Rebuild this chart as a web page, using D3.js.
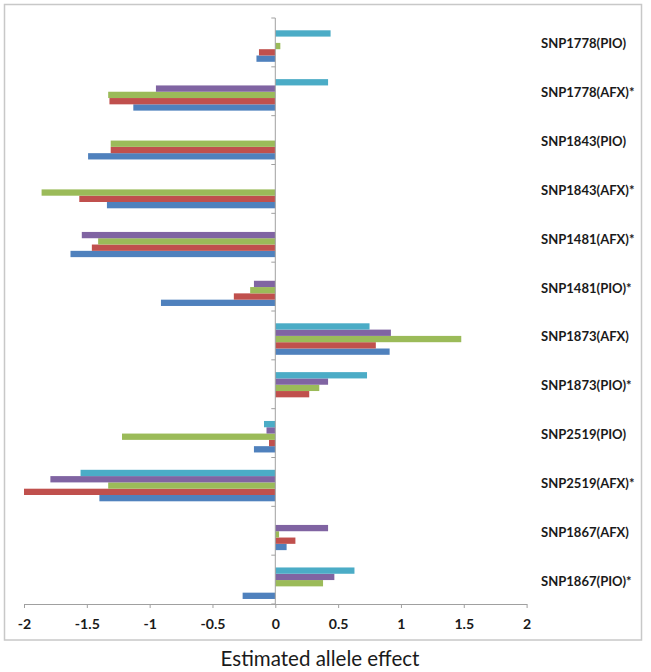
<!DOCTYPE html>
<html>
<head>
<meta charset="utf-8">
<script src="https://cdn.jsdelivr.net/npm/d3@7"></script>
<style>
  html, body { margin: 0; padding: 0; background: #fff; }
  svg { display: block; }
  text { font-family: Lato, "Open Sans", "Noto Sans", sans-serif; fill: #1a1a1a; }
</style>
</head>
<body>
<svg id="chart" width="651" height="672"></svg>
<script>
// ---------- data ----------
const categories = ["SNP1778(PIO)", "SNP1778(AFX)*", "SNP1843(PIO)", "SNP1843(AFX)*",
  "SNP1481(AFX)*", "SNP1481(PIO)*", "SNP1873(AFX)", "SNP1873(PIO)*",
  "SNP2519(PIO)", "SNP2519(AFX)*", "SNP1867(AFX)", "SNP1867(PIO)*"];
const seriesNames = ["S1", "S2", "S3", "S4", "S5"];
const s1Blue   = [-0.15, -1.13, -1.49, -1.34, -1.63, -0.91, 0.91, 0,    -0.17, -1.40, 0.09, -0.26];
const s2Red    = [-0.13, -1.32, -1.31, -1.56, -1.46, -0.33, 0.80, 0.27, -0.05, -2.00, 0.16, 0];
const s3Green  = [ 0.04, -1.33, -1.31, -1.86, -1.41, -0.20, 1.48, 0.35, -1.22, -1.33, 0.03, 0.38];
const s4Purple = [ 0,    -0.95,  0,     0,    -1.54, -0.17, 0.92, 0.42, -0.07, -1.79, 0.42, 0.47];
const s5Cyan   = [ 0.44,  0.42,  0,     0,     0,     0,    0.75, 0.73, -0.09, -1.55, 0,    0.63];
const xTicks = [-2, -1.5, -1, -0.5, 0, 0.5, 1, 1.5, 2];
const xTitle = "Estimated allele effect";

const seriesValues = [s1Blue, s2Red, s3Green, s4Purple, s5Cyan];
const colors = ["#4F81BD", "#C0504D", "#9BBB59", "#8064A2", "#4BACC6"];

// ---------- layout ----------
const svg = d3.select("#chart");
const plot = { left: 24, right: 526.6, top: 18, bottom: 604 };

const x = d3.scaleLinear().domain([-2, 2]).range([plot.left, plot.right]);
const y = d3.scaleBand().domain(categories).range([plot.top, plot.bottom]).paddingInner(0).paddingOuter(0);
// series drawn bottom-up: S1 at bottom, S5 at top
const inner = d3.scaleBand().domain(seriesNames.slice().reverse())
  .range([12.3, 12.3 + 31.5]).paddingInner(0);

// outer border
svg.append("rect")
  .attr("x", 4.5).attr("y", 4.5).attr("width", 637).attr("height", 635.5)
  .attr("fill", "none").attr("stroke", "#c8c8c8").attr("stroke-width", 1.5);

// bars
const rows = [];
seriesValues.forEach((vals, si) => {
  vals.forEach((v, ci) => rows.push({ s: seriesNames[si], si, c: categories[ci], v }));
});
svg.append("g").selectAll("rect").data(rows).join("rect")
  .attr("x", d => Math.min(x(0), x(d.v)))
  .attr("width", d => Math.abs(x(d.v) - x(0)))
  .attr("y", d => y(d.c) + inner(d.s))
  .attr("height", inner.bandwidth())
  .attr("fill", d => colors[d.si]);

const axisColor = "#a0a0a0";

// x axis
const xAxis = svg.append("g")
  .attr("transform", `translate(0,${plot.bottom})`)
  .call(d3.axisBottom(x).tickValues(xTicks).tickSizeInner(4).tickSizeOuter(0)
    .tickFormat(d => String(d)));
xAxis.select(".domain").attr("stroke", axisColor);
xAxis.selectAll(".tick line").attr("stroke", axisColor);
xAxis.selectAll(".tick text")
  .attr("y", 20).attr("dy", "0.35em")
  .style("font-weight", "bold").style("font-family", "Lato, sans-serif")
  .attr("fill", "#1a1a1a");

// vertical category axis at x = 0
const yAxis = svg.append("g");
yAxis.append("line")
  .attr("x1", x(0)).attr("x2", x(0))
  .attr("y1", plot.top).attr("y2", plot.bottom)
  .attr("stroke", axisColor);
const boundaries = categories.map(c => y(c)).concat([y.range()[1]]);
yAxis.selectAll("line.tk").data(boundaries).join("line").attr("class", "tk")
  .attr("x1", x(0) - 4).attr("x2", x(0))
  .attr("y1", d => d).attr("y2", d => d)
  .attr("stroke", axisColor);

// category labels on the right
const catLabels = svg.append("g").selectAll("text").data(categories).join("text")
  .attr("x", 541)
  .attr("y", d => y(d) + y.bandwidth() / 2 + 1)
  .attr("dominant-baseline", "central")
  .style("font-weight", "bold")
  .text(d => d);

// axis title
const title = svg.append("text")
  .attr("x", 320).attr("y", 658)
  .attr("text-anchor", "middle")
  .attr("dominant-baseline", "central")
  .text(xTitle);

// fit font sizes to the measured widths of the reference
function fitSize(sel, sampleText, targetWidth, base) {
  const probe = svg.append("text").style("font-family", "Lato, sans-serif")
    .style("font-weight", sel.style("font-weight")).style("font-size", base + "px").text(sampleText);
  const w = probe.node().getComputedTextLength();
  probe.remove();
  const size = base * targetWidth / w;
  sel.style("font-size", size + "px");
}
fitSize(catLabels, "SNP1778(PIO)", 85, 13);
fitSize(xAxis.selectAll(".tick text"), "-0.5", 25, 12);
fitSize(title, xTitle, 199, 18);
</script>
</body>
</html>
